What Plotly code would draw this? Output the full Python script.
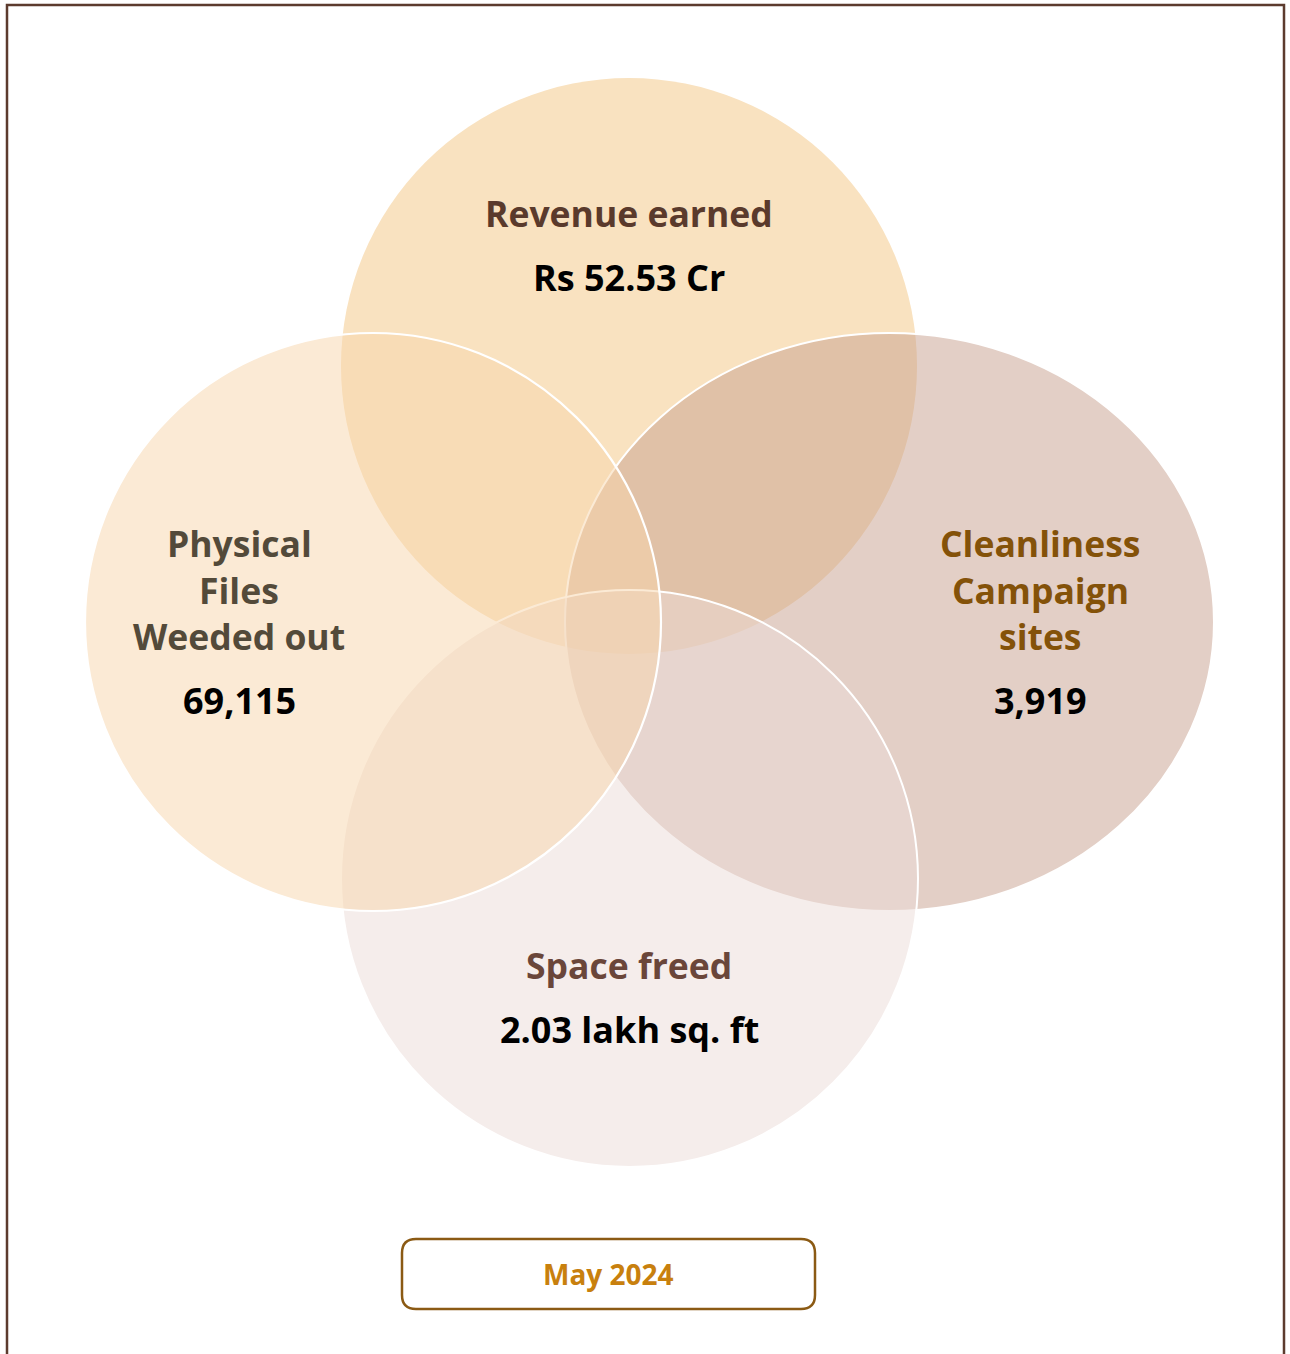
import plotly.graph_objects as go

# ---------------- data ----------------
category_lines = [
    ["Revenue earned"],
    ["Cleanliness", "Campaign", "sites"],
    ["Space freed"],
    ["Physical", "Files", "Weeded out"],
]
values = ["Rs 52.53 Cr", "3,919", "2.03 lakh sq. ft", "69,115"]
period = "May 2024"

# ---------------- layout / style ----------------
W, H = 1290, 1354
# shape geometry (centre x, centre y, radius x, radius y) drawn in order top, right, bottom, left
geom = [
    (629, 366, 288, 288),
    (889.5, 622, 324.5, 289),
    (629.5, 878.5, 288.5, 288.5),
    (373, 622, 288, 289),
]
fills = [
    "rgba(249,226,192,1)",
    "rgba(199,159,141,0.5)",
    "rgba(235,219,215,0.5)",
    "rgba(247,213,171,0.5)",
]
outlines = [0, 2, 2, 2.2]
# text anchors: x, y of first label line, y of value
text_pos = [
    (629, 213, 277.5),
    (1040, 543, 700),
    (629, 965, 1029),
    (239, 543, 700),
]
label_colors = ["#5A3A2C", "#845209", "#6A463A", "#534A3A"]
line_gap = 46.7
FONT = "Open Sans"
FS_LABEL = 35.5
FS_VALUE = 36

fig = go.Figure()
fig.add_trace(go.Scatter(x=[0, W], y=[0, H], mode="markers",
                         marker=dict(opacity=0), hoverinfo="skip", showlegend=False))

shapes = []
# outer frame
shapes.append(dict(type="rect", xref="x", yref="y", x0=7, y0=5, x1=1284, y1=H + 20,
                   line=dict(color="#5C3B2E", width=2.5), fillcolor="rgba(0,0,0,0)", layer="above"))
for (cx, cy, rx, ry), fc, lw in zip(geom, fills, outlines):
    shapes.append(dict(type="circle", xref="x", yref="y",
                       x0=cx - rx, x1=cx + rx, y0=cy - ry, y1=cy + ry,
                       fillcolor=fc,
                       line=dict(color="white", width=lw) if lw else dict(width=0),
                       layer="above"))

# rounded period box
bx0, by0, bx1, by1, r = 402, 1239, 815, 1309, 14
path = (f"M {bx0+r},{by0} L {bx1-r},{by0} Q {bx1},{by0} {bx1},{by0+r} "
        f"L {bx1},{by1-r} Q {bx1},{by1} {bx1-r},{by1} L {bx0+r},{by1} "
        f"Q {bx0},{by1} {bx0},{by1-r} L {bx0},{by0+r} Q {bx0},{by0} {bx0+r},{by0} Z")
shapes.append(dict(type="path", xref="x", yref="y", path=path,
                   line=dict(color="#8B5A14", width=2.5), fillcolor="white", layer="above"))

annotations = []
for lines, val, (tx, ty, vy), col in zip(category_lines, values, text_pos, label_colors):
    for i, ln in enumerate(lines):
        annotations.append(dict(x=tx, y=ty + i * line_gap, xref="x", yref="y", text=ln,
                                showarrow=False, xanchor="center", yanchor="middle",
                                font=dict(family=FONT, size=FS_LABEL, color=col, weight="bold")))
    annotations.append(dict(x=tx, y=vy, xref="x", yref="y", text=val,
                            showarrow=False, xanchor="center", yanchor="middle",
                            font=dict(family=FONT, size=FS_VALUE, color="#000000", weight="bold")))
annotations.append(dict(x=(bx0 + bx1) / 2, y=1273.5, xref="x", yref="y", text=period,
                        showarrow=False, xanchor="center", yanchor="middle",
                        font=dict(family=FONT, size=28, color="#C8800E", weight="bold")))

fig.update_layout(
    width=W, height=H, margin=dict(l=0, r=0, t=0, b=0),
    paper_bgcolor="white", plot_bgcolor="white",
    xaxis=dict(range=[0, W], visible=False, fixedrange=True),
    yaxis=dict(range=[H, 0], visible=False, fixedrange=True),
    shapes=shapes, annotations=annotations, showlegend=False,
)

fig.write_html("out.html", config={"displayModeBar": False},
               post_script="document.body.style.margin='0';document.body.style.overflow='hidden';")
